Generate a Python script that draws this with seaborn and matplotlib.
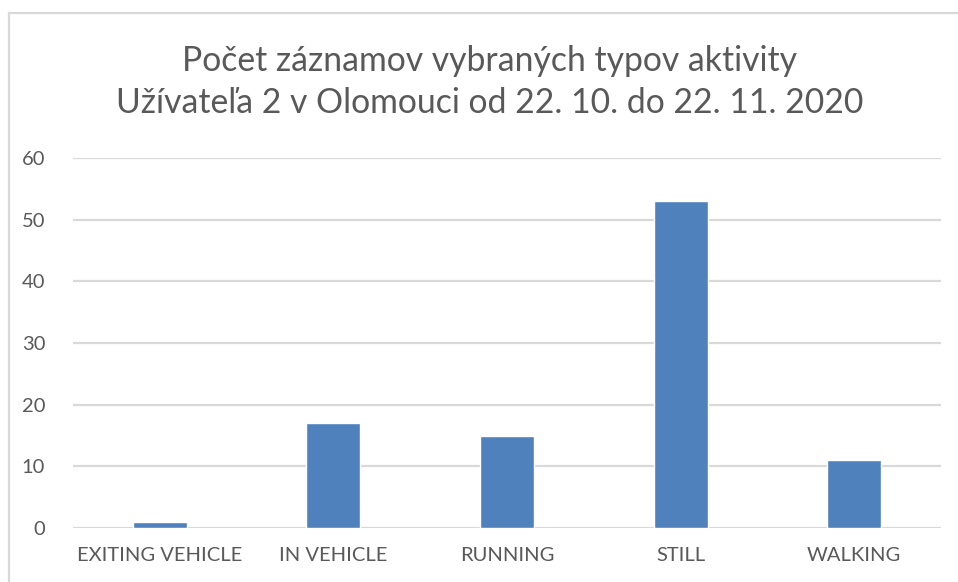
import matplotlib
matplotlib.use("Agg")
import matplotlib.pyplot as plt
from matplotlib.patches import Rectangle
import pandas as pd
import seaborn as sns

# activity types and record counts
categories = ["EXITING VEHICLE", "IN VEHICLE", "RUNNING", "STILL", "WALKING"]
counts = [1, 17, 15, 53, 11]
y_ticks = [0, 10, 20, 30, 40, 50, 60]
title_lines = ["Počet záznamov vybraných typov aktivity",
               "Užívateľa 2 v Olomouci od 22. 10. do 22. 11. 2020"]

df = pd.DataFrame({"activity": categories, "count": counts})

sns.set_theme(style="white")
plt.rcParams["font.family"] = ["Lato", "DejaVu Sans"]

text_color = "#595959"
grid_color = "#D9D9D9"
bar_color = "#4F81BD"

fig = plt.figure(figsize=(9.58, 5.82), dpi=100)
ax = fig.add_axes([73 / 958, 1 - 528 / 582, 868 / 958, 370 / 582])

sns.barplot(data=df, x="activity", y="count", color=bar_color,
            width=0.31, saturation=1, ax=ax, zorder=3)

ax.set_ylim(0, 60)
ax.set_xlim(-0.5, len(categories) - 0.5)
ax.set_yticks(y_ticks)
ax.yaxis.grid(True, color=grid_color, linewidth=1.6, zorder=0)
ax.xaxis.grid(False)
for s in ax.spines.values():
    s.set_visible(False)

ax.set_xlabel("")
ax.set_ylabel("")
ax.tick_params(axis="y", length=0, pad=20, labelsize=14.5, labelcolor=text_color)
ax.tick_params(axis="x", length=0, pad=14, labelsize=14.5, labelcolor=text_color)

fig.text(490 / 958, 1 - 61 / 582, title_lines[0], ha="center", va="center",
         fontsize=24.3, color=text_color)
fig.text(490 / 958, 1 - 103 / 582, title_lines[1], ha="center", va="center",
         fontsize=24.3, color=text_color)

# outer chart frame (runs off the right and bottom edge)
fig.patches.append(Rectangle((9 / 958, -0.1), 1.2, 1 - 13 / 582 + 0.1,
                             transform=fig.transFigure, fill=False,
                             edgecolor=grid_color, linewidth=1.6))

fig.savefig("out.png", dpi=100)
